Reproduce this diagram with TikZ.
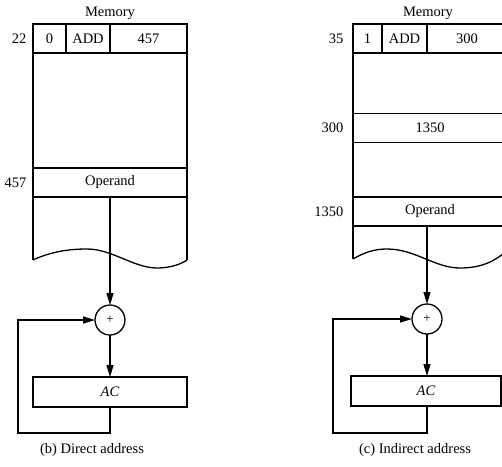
\documentclass[tikz,border=0pt]{standalone}
\usepackage{fontspec}
\setmainfont{Liberation Serif}
\usetikzlibrary{arrows.meta}
\begin{document}
\begin{tikzpicture}[x=1pt,y=-1pt,line width=1.3pt,
  every node/.style={font=\fontsize{14.5}{16}\selectfont},
  cell/.style={draw,rectangle,inner sep=0pt,outer sep=0pt,minimum height=29pt},
  lbl/.style={anchor=east,inner sep=0pt},
  sumnode/.style={draw,circle,minimum size=30pt,inner sep=0pt,outer sep=0pt,font=\fontsize{13}{14}\selectfont},
  arr/.style={-{Triangle[length=12pt,width=7pt]}}]
\useasboundingbox (0,0) rectangle (502,466);
\begin{scope}
\clip (0,0) rectangle (502,466);
% ---------------- (b) Direct address ----------------
\node (mem1) at (110,13) {Memory};
\node[cell,minimum width=33pt] (i1a) at (49.5,38.5) {0};
\node[cell,minimum width=44pt] (i1b) at (88,38.5) {ADD};
\node[cell,minimum width=77pt] (i1c) at (148.5,38.5) {457};
\node[lbl] (a22) at (27,38.5) {22};
\node[cell,minimum width=154pt] (op1) at (110,182.5) {Operand};
\node[lbl] (a457) at (27,182.5) {457};
\coordinate (w1l) at (33,260);
\coordinate (w1r) at (187,260);
\draw (i1a.south west) -- (w1l);
\draw (i1c.south east) -- (w1r);
\draw (w1l) .. controls (50,252) and (68,249) .. (87,249)
      .. controls (112,249) and (134,268) .. (157,268)
      .. controls (171,268) and (181,264) .. (w1r);
\node[sumnode] (sum1) at (110,320) {+};
\node[cell,minimum width=154pt,minimum height=30pt] (ac1) at (110,392) {\itshape AC};
\coordinate (lp1) at (18,433);
\draw[arr] (op1.south) -- (sum1.north);
\draw[arr] (sum1.south) -- (ac1.north);
\draw[arr] (ac1.south) |- (lp1) |- (sum1.west);
\node (cap1) at (92,450) {(b) Direct address};
% ---------------- (c) Indirect address ----------------
\node (mem2) at (428,13) {Memory};
\node[cell,minimum width=29pt] (i2a) at (367.5,38.5) {1};
\node[cell,minimum width=45pt] (i2b) at (404.5,38.5) {ADD};
\node[cell,minimum width=80pt] (i2c) at (467,38.5) {300};
\node[lbl] (a35) at (344,38.5) {35};
\node[cell,minimum width=154pt] (r300) at (430,128) {1350};
\node[lbl] (a300) at (344,128) {300};
\node[cell,minimum width=154pt] (op2) at (430,211.5) {Operand};
\node[lbl] (a1350) at (344,211.5) {1350};
\coordinate (w2l) at (353,259);
\coordinate (w2r) at (507,250);
\draw (i2a.south west) -- (w2l);
\draw (i2c.south east) -- (w2r);
\draw (w2l) .. controls (365,252) and (375,249) .. (387,249)
      .. controls (415,249) and (435,268) .. (460,268)
      .. controls (480,268) and (495,262) .. (w2r);
\node[sumnode] (sum2) at (427,319) {+};
\node[cell,minimum width=150pt,minimum height=30pt] (ac2) at (426,391) {\itshape AC};
\coordinate (lp2) at (333,433);
\draw[arr] (op2.south -| sum2.north) -- (sum2.north);
\draw[arr] (sum2.south) -- (ac2.north -| sum2.south);
\draw[arr] (ac2.south -| sum2.south) |- (lp2) |- (sum2.west);
\node (cap2) at (415,450) {(c) Indirect address};
\end{scope}
\end{tikzpicture}
\end{document}
